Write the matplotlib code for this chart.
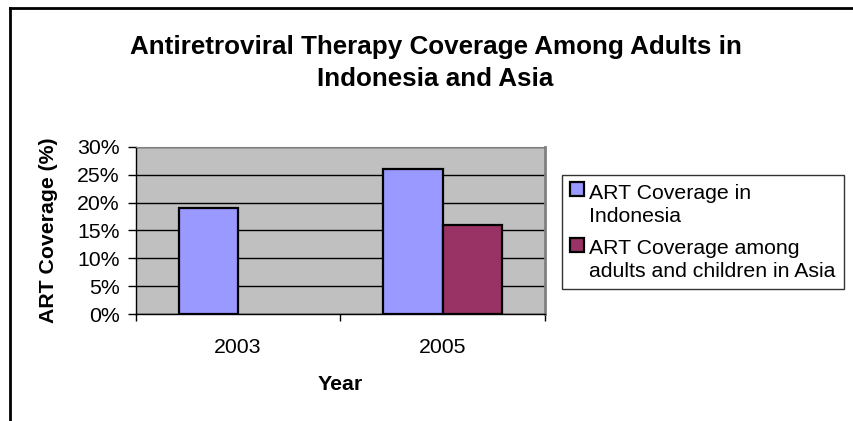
import numpy as np
import matplotlib
matplotlib.use("Agg")
from matplotlib import pyplot as plt
from matplotlib.lines import Line2D
from matplotlib.patches import Rectangle
from matplotlib.container import BarContainer
from matplotlib.legend_handler import HandlerPatch, update_from_first_child
from matplotlib.ticker import FixedLocator, PercentFormatter

# data
years = ["2003", "2005"]
indonesia = [19, 26]
asia = [np.nan, 16]
series_names = ["ART Coverage in\nIndonesia",
                "ART Coverage among\nadults and children in Asia"]

plt.rcParams['font.family'] = ['Liberation Sans', 'DejaVu Sans']
fs = 15.3

fig = plt.figure(figsize=(8.54, 4.21), dpi=100)
ax = fig.add_axes([0.159, 0.254, 0.479, 0.397])
ax.set_facecolor('#C0C0C0')

centers = np.arange(len(years)) + 0.5
w = 0.29
ax.bar(centers - w, indonesia, width=w, align='edge', color='#9999FF',
       edgecolor='black', linewidth=1.6, label=series_names[0], zorder=3)
ax.bar(centers, asia, width=w, align='edge', color='#993366',
       edgecolor='black', linewidth=1.6, label=series_names[1], zorder=3)

ax.set_xlim(0, len(years))
ax.set_ylim(0, 30)
ax.set_yticks(np.arange(0, 31, 5))
ax.yaxis.set_major_formatter(PercentFormatter(decimals=0))
ax.yaxis.grid(True, color='black', linewidth=1, zorder=1)
ax.set_axisbelow(True)

ax.set_xticks(centers)
ax.set_xticklabels(years)
ax.xaxis.set_minor_locator(FixedLocator(np.arange(len(years) + 1)))
ax.tick_params(axis='x', which='major', length=0, pad=17, labelsize=fs)
ax.tick_params(axis='x', which='minor', length=5, width=1, direction='out')
ax.tick_params(axis='y', length=5.5, width=1, direction='out', labelsize=fs, pad=6)

for s in ['top', 'right']:
    ax.spines[s].set_color('#808080')
ax.spines['right'].set_linewidth(2)
ax.spines['left'].set_linewidth(1)
ax.spines['bottom'].set_linewidth(1)

ax.set_xlabel("Year", fontsize=fs, fontweight='bold', labelpad=13)
ax.set_ylabel("ART Coverage (%)", fontsize=fs, fontweight='bold', labelpad=14)

fig.text(0.51, 0.850, "Antiretroviral Therapy Coverage Among Adults in\nIndonesia and Asia",
         ha='center', va='center', fontsize=18.7, fontweight='bold', linespacing=1.45)


# legend square sits next to the first text line
def top_square(legend, orig_handle, xdescent, ydescent, width, height, fontsize):
    return Rectangle((-xdescent, -ydescent + 0.72 * fontsize), width, height)


leg = ax.legend(loc='upper left', bbox_to_anchor=(0.658, 0.584), bbox_transform=fig.transFigure,
                fontsize=fs, frameon=True, fancybox=False, edgecolor='black',
                handlelength=0.63, handleheight=0.63, handletextpad=0.25,
                labelspacing=0.62, borderpad=0.4, borderaxespad=0,
                handler_map={BarContainer: HandlerPatch(patch_func=top_square,
                                                        update_func=update_from_first_child)})
leg.get_frame().set_linewidth(1)
for t in leg.get_texts():
    t.set_linespacing(1.27)

# chart-area border (left and top visible)
fig.add_artist(Line2D([10/854, 10/854], [0, 1 - 8/421], color='black', linewidth=2,
                      transform=fig.transFigure))
fig.add_artist(Line2D([10/854, 1], [1 - 8/421, 1 - 8/421], color='black', linewidth=2,
                      transform=fig.transFigure))

plt.savefig("out.png", dpi=100)
